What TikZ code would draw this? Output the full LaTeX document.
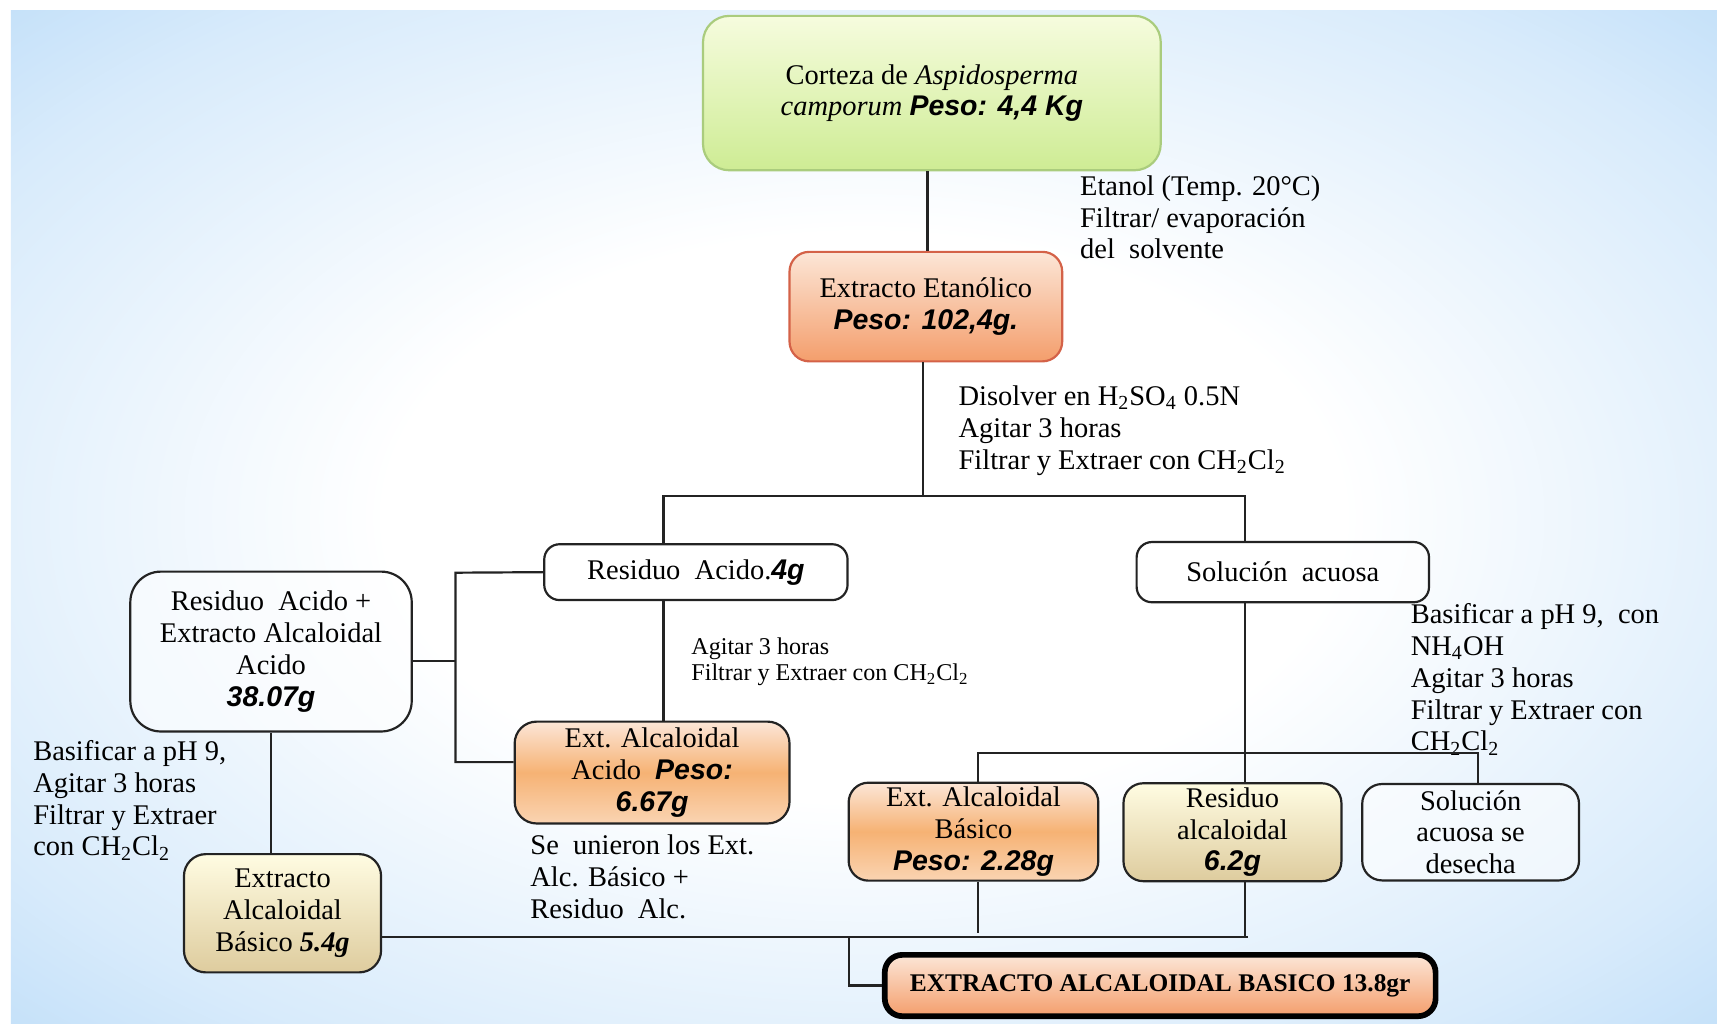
\documentclass[tikz,border=0pt]{standalone}
\usepackage{fontspec}
\setmainfont{Liberation Serif}
\setsansfont{Liberation Sans}
\definecolor{bgblue}{RGB}{168,210,246}
\definecolor{grtop}{RGB}{246,252,222}
\definecolor{grbot}{RGB}{206,236,148}
\definecolor{grbord}{RGB}{170,204,125}
\definecolor{ortop}{RGB}{252,230,215}
\definecolor{orbot}{RGB}{244,158,108}
\definecolor{orbord}{RGB}{212,98,72}
\definecolor{ormid}{RGB}{246,178,116}
\definecolor{orlow}{RGB}{250,212,178}
\definecolor{ylwtop}{RGB}{255,252,226}
\definecolor{ylwbot}{RGB}{222,204,158}
\definecolor{lineclr}{RGB}{35,35,35}
\pgfdeclareradialshading{bgshade}{\pgfpoint{0bp}{0bp}}{color(0bp)=(white); color(14bp)=(white); color(30bp)=(white!55!bgblue); color(44bp)=(bgblue); color(70bp)=(bgblue)}
\newcommand\myfs{\fontsize{13}{14.5}\selectfont}
\newcommand\mysmallfs{\fontsize{11}{12}\selectfont}
\newcommand\myfinalfs{\fontsize{11.6}{13}\selectfont\bfseries}
\newcommand\pwt[1]{{\sffamily\bfseries\itshape #1}}
\newcommand\sub[1]{\textsubscript{#1}}
\begin{document}
\begin{tikzpicture}[x=0.5pt,y=-0.5pt,
  txt/.style={font=\myfs, align=left, anchor=north west, inner sep=0pt},
  box/.style={draw=lineclr, line width=1pt, rounded corners=7pt, align=center, font=\myfs, inner sep=2pt},
  wbox/.style={box, fill=white, fill opacity=0.55, text opacity=1},
  obox/.style={box, top color=ortop, bottom color=orlow, middle color=ormid},
  ybox/.style={box, top color=ylwtop, bottom color=ylwbot},
  conn/.style={draw=lineclr, line width=1pt}]
\useasboundingbox (0,0) rectangle (1568,935);
\fill[white] (0,0) rectangle (1568,935);
\shade[shading=bgshade] (10,10) rectangle (1568,935);

% nodes
\node[box, draw=grbord, top color=grtop, bottom color=grbot, rounded corners=12pt,
      minimum width=209pt, minimum height=70.5pt] (top) at (851,85)
  {Corteza de \textit{Aspidosperma}\\ \textit{camporum} \pwt{Peso: 4,4 Kg}};
\node[box, draw=orbord, top color=ortop, bottom color=orbot, rounded corners=9pt,
      minimum width=124.5pt, minimum height=50pt] (etan) at (845.5,280)
  {Extracto Etanólico\\ \pwt{Peso: 102,4g.}};
\node[wbox, minimum width=138.5pt, minimum height=25.5pt] (resac) at (635.5,522.5)
  {Residuo\ \ Acido.\pwt{4g}};
\node[wbox, minimum width=133.5pt, minimum height=27.5pt] (solac) at (1171.5,522.5)
  {Solución\ \ acuosa};
\node[wbox, rounded corners=14pt, minimum width=128.5pt, minimum height=73pt] (leftbox) at (247.5,595)
  {Residuo\ \ Acido +\\ Extracto Alcaloidal\\ Acido\\ \pwt{38.07g}};
\node[obox, rounded corners=10pt, minimum width=125.5pt, minimum height=46.5pt] (extacid) at (595.5,705.5)
  {Ext. Alcaloidal\\ Acido\ \ \pwt{Peso:}\\ \pwt{6.67g}};
\node[ybox, rounded corners=10pt, minimum width=90pt, minimum height=54pt] (extbas5) at (258,834)
  {Extracto\\ Alcaloidal\\ Básico \textbf{\textit{5.4g}}};
\node[obox, rounded corners=9pt, minimum width=114pt, minimum height=44.5pt] (extbas) at (889,759.5)
  {Ext. Alcaloidal\\ Básico\\ \pwt{Peso: 2.28g}};
\node[ybox, rounded corners=9pt, minimum width=99.5pt, minimum height=44pt] (resalc) at (1125.5,760)
  {Residuo\\ alcaloidal\\ \pwt{6.2g}};
\node[wbox, rounded corners=9pt, minimum width=99pt, minimum height=44pt] (soldes) at (1343,760)
  {Solución\\ acuosa se\\ desecha};
\node[box, line width=2.6pt, draw=black, top color=ortop, bottom color=orbot, rounded corners=8pt,
      font=\myfinalfs, minimum width=251.5pt, minimum height=28pt] (final) at (1059.5,900)
  {EXTRACTO ALCALOIDAL BASICO 13.8gr};

% labels
\node[txt] (lab1) at (986,160) {Etanol (Temp. 20°C)\\ Filtrar/ evaporación\\ del\ \ solvente};
\node[txt] (lab2) at (875,352) {Disolver en H\sub{2}SO\sub{4} 0.5N\\ Agitar 3 horas\\ Filtrar y Extraer con CH\sub{2}Cl\sub{2}};
\fill[white] (620,575) rectangle (930,650);
\node[txt, font=\mysmallfs] (lab3) at (631,582) {Agitar 3 horas\\ Filtrar y Extraer con CH\sub{2}Cl\sub{2}};
\node[txt] (lab4) at (484,762) {Se\ \ unieron los Ext.\\ Alc. Básico +\\ Residuo\ \ Alc.};
\node[txt] (lab5) at (30,676) {Basificar a pH 9,\\ Agitar 3 horas\\ Filtrar y Extraer\\ con CH\sub{2}Cl\sub{2}};
\node[txt] (lab6) at (1288,551) {Basificar a pH 9,\ \ con\\ NH\sub{4}OH\\ Agitar 3 horas\\ Filtrar y Extraer con\\ CH\sub{2}Cl\sub{2}};

% junction coordinates
\coordinate (j1L) at (606,453);
\coordinate (j1R) at (1137,453);
\coordinate (j2T) at (416,523);
\coordinate (j2M) at (416,604);
\coordinate (j2B) at (416,696);
\coordinate (j3L) at (893,688);
\coordinate (j3R) at (1350,688);
\coordinate (j4R) at (1140,856);
\coordinate (j4M) at (775,856);

% connectors
\draw[conn] (top.south -| 847,0) -- (etan.north -| 847,0);
\draw[conn] (etan.south -| 843,0) -- (j1L -| 843,0);
\draw[conn] (resac.north -| j1L) -- (j1L) -- (j1R) -- (j1R |- solac.north);
\draw[conn] (resac.west) -- (j2T) -- (j2B) -- (j2B -| extacid.west);
\draw[conn] (leftbox.east |- j2M) -- (j2M);
\draw[conn] (resac.south -| j1L) -- (extacid.north -| j1L);
\draw[conn] (leftbox.south) -- (leftbox.south |- extbas5.north);
\draw[conn] (solac.south -| j1R) -- (resalc.north -| j1R);
\draw[conn] (extbas.north -| j3L) -- (j3L) -- (j3R) -- (soldes.north -| j3R);
\draw[conn] (extbas.south -| j3L) -- (j3L |- 0,852);
\draw[conn] (resalc.south -| j1R) -- (j1R |- j4R);
\draw[conn] (extbas5.east |- j4R) -- (j4R);
\draw[conn] (j4M) -- (j4M |- final.west) -- (final.west);
\end{tikzpicture}
\end{document}
